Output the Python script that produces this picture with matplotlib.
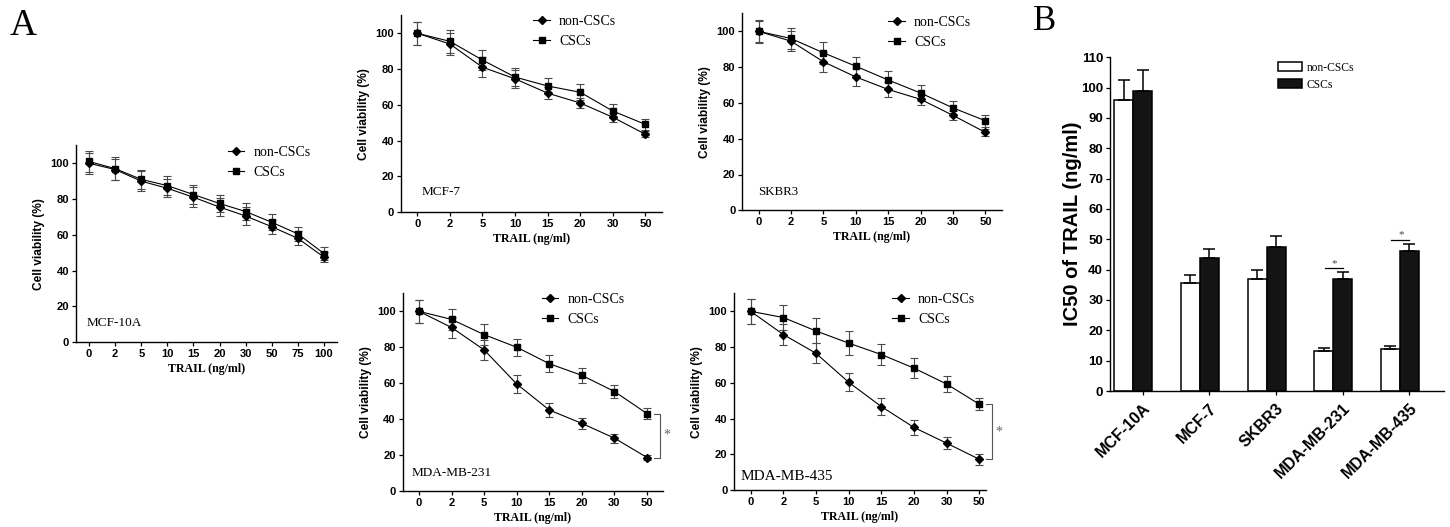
import numpy as np
import matplotlib
matplotlib.use("Agg")
import matplotlib.pyplot as plt

SERIF = "Liberation Serif"
SANS = "Liberation Sans"

# ---- dose-response data (cell viability, %) ----
doses_10a = ["0", "2", "5", "10", "15", "20", "30", "50", "75", "100"]
doses = ["0", "2", "5", "10", "15", "20", "30", "50"]

mcf10a_non = [100, 96.5, 90, 86, 81, 75.5, 70.5, 64.5, 58, 47.5]
mcf10a_non_err = [6, 6, 5.5, 5, 5.5, 5, 5, 4, 4, 3]
mcf10a_csc = [101, 97, 91, 87.5, 82.5, 77.5, 73, 67, 60.5, 49.5]
mcf10a_csc_err = [6, 6.5, 5.5, 5.5, 5.5, 5, 5, 4.5, 4, 3.5]

mcf7_non = [100, 94, 81, 74.5, 66.5, 61, 53, 43.5]
mcf7_non_err = [6.5, 6, 5.5, 5, 3.5, 3, 2.5, 1.8]
mcf7_csc = [100, 95.5, 85, 75.5, 70.5, 67, 56.5, 49]
mcf7_csc_err = [6.5, 6.5, 5.5, 5, 4.7, 4.5, 4, 3.3]

skbr3_non = [100, 94.5, 83, 74.5, 67.5, 62, 53, 43.5]
skbr3_non_err = [6, 5.5, 5.5, 5, 4, 3.2, 2.5, 2]
skbr3_csc = [100, 96, 88, 80.5, 72.8, 65.5, 57.2, 50]
skbr3_csc_err = [6.5, 6, 6, 5, 5, 4.3, 4, 3.3]

mda231_non = [100, 91, 78.5, 59.5, 45, 37.5, 29.3, 18.5]
mda231_non_err = [6.3, 5.7, 5.5, 4.8, 3.8, 3, 2.5, 1.5]
mda231_csc = [100, 95.5, 87, 80, 70.8, 64.3, 55.3, 43]
mda231_csc_err = [6.3, 6, 6, 4.8, 4.8, 4.2, 3.8, 3.3]

mda435_non = [100, 87, 76.5, 60.3, 46.7, 35, 26.2, 17.2]
mda435_non_err = [7, 6, 5.5, 5, 4.5, 4, 3.5, 3]
mda435_csc = [100, 96.5, 89, 82.2, 75.8, 68.2, 59.3, 48]
mda435_csc_err = [7, 7, 7, 6.5, 6, 5.5, 4.5, 3.5]

# ---- IC50 data (ng/ml) ----
cell_lines = ["MCF-10A", "MCF-7", "SKBR3", "MDA-MB-231", "MDA-MB-435"]
ic50_non = [95.9, 35.7, 37.0, 13.1, 13.7]
ic50_non_err = [6.5, 2.7, 2.8, 1.2, 1.1]
ic50_csc = [99.0, 43.7, 47.6, 36.8, 46.3]
ic50_csc_err = [6.7, 3.2, 3.6, 2.4, 2.3]
ic50_significant = [False, False, False, True, True]

W, H = 1450, 527
fig = plt.figure(figsize=(W / 100, H / 100), dpi=100)


def px_axes(left, right, y0, ytop):
    """Create axes from pixel edges (top-origin)."""
    return fig.add_axes([left / W, 1 - y0 / H, (right - left) / W, (y0 - ytop) / H])


def style_axes(ax, tick_size):
    for s in ("top", "right"):
        ax.spines[s].set_visible(False)
    for s in ("left", "bottom"):
        ax.spines[s].set_linewidth(1.0)
    ax.tick_params(direction="out", length=3, width=0.9, pad=2)
    for lab in ax.get_xticklabels() + ax.get_yticklabels():
        lab.set_fontfamily(SANS)
        lab.set_fontweight("bold")
        lab.set_fontsize(tick_size)


def viability_panel(rect, labels, non, non_err, csc, csc_err, name, name_pos, name_size,
                    legend_pos, xmax=None, bracket=False):
    ax = px_axes(*rect)
    x = np.arange(len(labels))
    ebkw = dict(ecolor="#4a4a4a", elinewidth=0.8, capsize=2.6, capthick=0.8)
    ax.errorbar(x, csc, yerr=csc_err, fmt="none", **ebkw, zorder=2)
    ax.errorbar(x, non, yerr=non_err, fmt="none", **ebkw, zorder=2)
    l_non, = ax.plot(x, non, color="black", lw=0.8, marker="D", ms=4.4,
                     mfc="black", mec="black", zorder=3, label="non-CSCs")
    l_csc, = ax.plot(x, csc, color="black", lw=0.8, marker="s", ms=4.8,
                     mfc="black", mec="black", zorder=3, label="CSCs")
    ax.set_xlim(-0.5, (len(labels) - 0.5) if xmax is None else xmax)
    ax.set_ylim(0, 110)
    ax.set_xticks(x)
    ax.set_xticklabels(labels)
    ax.set_yticks([0, 20, 40, 60, 80, 100])
    style_axes(ax, 8)
    ax.set_xlabel("TRAIL (ng/ml)", fontfamily=SERIF, fontweight="bold", fontsize=8.6, labelpad=3)
    ax.set_ylabel("Cell viability (%)", fontfamily=SANS, fontweight="bold", fontsize=8.6, labelpad=4)
    ax.text(name_pos[0], name_pos[1], name, fontfamily=SERIF, fontsize=name_size,
            ha="left", va="center")
    lx, ly = legend_pos
    ax.legend(handles=[l_non, l_csc], loc="center left",
              bbox_to_anchor=(lx / W, 1 - ly / H), bbox_transform=fig.transFigure,
              frameon=False, borderpad=0, borderaxespad=0, handlelength=1.2,
              handletextpad=0.65, labelspacing=0.5,
              prop={"family": SERIF, "size": 10})
    if bracket:
        xe = len(labels) - 1
        ytop, ybot = csc[-1], non[-1]
        ax.plot([xe + 0.2, xe + 0.39, xe + 0.39, xe + 0.2], [ytop, ytop, ybot, ybot],
                color="#555555", lw=0.8, clip_on=False)
        ax.text(xe + 0.5, (ytop + ybot) / 2, "*", fontfamily=SERIF, fontsize=10,
                color="#666666", ha="left", va="center", clip_on=False)
    return ax


viability_panel((76, 337, 342, 145.4), doses_10a, mcf10a_non, mcf10a_non_err,
                mcf10a_csc, mcf10a_csc_err, "MCF-10A", (-0.1, 10.5), 9.5,
                (227.7, 162.8))
viability_panel((401, 661.7, 212, 15.4), doses, mcf7_non, mcf7_non_err,
                mcf7_csc, mcf7_csc_err, "MCF-7", (0.12, 11.2), 9.5,
                (533.3, 31.2))
viability_panel((742.3, 1001.7, 210.3, 13.4), doses, skbr3_non, skbr3_non_err,
                skbr3_csc, skbr3_csc_err, "SKBR3", (0.0, 10.4), 9.3,
                (888.3, 32.2))
viability_panel((402.7, 663.3, 490.7, 293.4), doses, mda231_non, mda231_non_err,
                mda231_csc, mda231_csc_err, "MDA-MB-231", (-0.22, 9.7), 9.5,
                (541.7, 309.5), bracket=True)
viability_panel((734.3, 985.8, 490, 293.4), doses, mda435_non, mda435_non_err,
                mda435_csc, mda435_csc_err, "MDA-MB-435", (-0.3, 7.4), 11,
                (892.3, 309.5), xmax=7.2, bracket=True)

# ---- IC50 bar chart ----
axb = px_axes(1110, 1444, 391, 57.3)
pos = np.arange(len(cell_lines))
bw = 0.285
axb.bar(pos - bw, ic50_non, width=bw, color="white", edgecolor="black", lw=1.1,
        label="non-CSCs", zorder=2)
axb.bar(pos, ic50_csc, width=bw, color="#141414", edgecolor="black", lw=1.1,
        label="CSCs", zorder=2)
axb.errorbar(pos - bw, ic50_non, yerr=[np.zeros(len(pos)), ic50_non_err], fmt="none",
             ecolor="black", elinewidth=1.1, capsize=4, capthick=1.1, zorder=3)
axb.errorbar(pos, ic50_csc, yerr=[np.zeros(len(pos)), ic50_csc_err], fmt="none",
             ecolor="black", elinewidth=1.1, capsize=4, capthick=1.1, zorder=3)
for i, sig in enumerate(ic50_significant):
    if sig:
        ys = ic50_csc[i] + ic50_csc_err[i] + 1.2
        axb.plot([pos[i] - bw * 0.95, pos[i]], [ys, ys], color="black", lw=0.9)
        axb.text(pos[i] - bw * 0.45, ys + 0.2, "*", fontfamily=SERIF, fontsize=8,
                 color="#444444", ha="center", va="bottom")
axb.set_xlim(-0.49, 4.52)
axb.set_ylim(0, 110)
axb.set_yticks(np.arange(0, 111, 10))
axb.set_xticks(pos)
axb.set_xticklabels(cell_lines)
style_axes(axb, 9.5)
for lab in axb.get_xticklabels():
    lab.set_fontsize(11.5)
    lab.set_rotation(45)
    lab.set_ha("right")
    lab.set_va("top")
    lab.set_rotation_mode("anchor")
axb.tick_params(axis="x", pad=4)
axb.set_ylabel("IC50 of TRAIL (ng/ml)", fontfamily=SANS, fontweight="bold",
               fontsize=14.5, labelpad=-0.5)
axb.legend(loc="center left", bbox_to_anchor=(1278 / W, 1 - 76.3 / H),
           bbox_transform=fig.transFigure, frameon=False, borderpad=0,
           borderaxespad=0, handlelength=2.1, handleheight=0.8,
           handletextpad=0.4, labelspacing=0.45,
           prop={"family": SERIF, "size": 8.3})

# ---- panel letters ----
fig.text(10 / W, 1 - 35 / H, "A", fontfamily=SERIF, fontsize=27, ha="left", va="baseline")
fig.text(1033 / W, 1 - 30.5 / H, "B", fontfamily=SERIF, fontsize=25, ha="left", va="baseline")

fig.savefig("out.png", dpi=100, facecolor="white")
